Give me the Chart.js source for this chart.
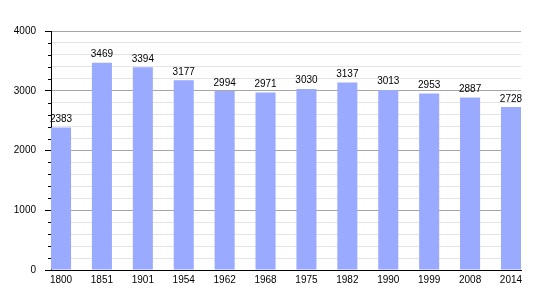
<!DOCTYPE html>
<html>
<head>
<meta charset="utf-8">
<script src="https://cdn.jsdelivr.net/npm/chart.js@4/dist/chart.umd.min.js"></script>
<style>
  body { margin: 0; background: #fff; }
  #wrap { width: 550px; height: 300px; }
</style>
</head>
<body>
<div id="wrap"><canvas id="chart"></canvas></div>
<script>
// --- data ---
const years = ['1800', '1851', '1901', '1954', '1962', '1968', '1975', '1982', '1990', '1999', '2008', '2014'];
const population = [2383, 3469, 3394, 3177, 2994, 2971, 3030, 3137, 3013, 2953, 2887, 2728];
const yMax = 4000;
const majorStep = 1000;
const minorStep = 200;

const FONT = { family: "'Liberation Sans', Arial, sans-serif", size: 10 };
Chart.defaults.color = '#000';

// bar values printed above each bar
const valueLabels = {
    id: 'valueLabels',
    afterDatasetsDraw(chart) {
        const ctx = chart.ctx;
        const meta = chart.getDatasetMeta(0);
        ctx.save();
        ctx.font = `${FONT.size}px ${FONT.family}`;
        ctx.fillStyle = '#000';
        ctx.textAlign = 'center';
        ctx.textBaseline = 'alphabetic';
        meta.data.forEach((bar, i) => {
            ctx.fillText(population[i], bar.x, bar.y - 5.5);
        });
        ctx.restore();
    }
};

// short minor tick marks on the y axis
const minorTicks = {
    id: 'minorTicks',
    afterDraw(chart) {
        const y = chart.scales.y;
        const ctx = chart.ctx;
        ctx.save();
        ctx.strokeStyle = '#000';
        ctx.lineWidth = 1;
        for (let v = minorStep; v < yMax; v += minorStep) {
            if (v % majorStep === 0) continue;
            const py = Math.round(y.getPixelForValue(v)) + 0.5;
            ctx.beginPath();
            ctx.moveTo(y.right - 3, py);
            ctx.lineTo(y.right, py);
            ctx.stroke();
        }
        ctx.restore();
    }
};

new Chart(document.getElementById('chart'), {
    type: 'bar',
    data: {
        datasets: [{
            data: population.map((v, i) => ({ x: i, y: v })),
            backgroundColor: '#99aaff',
            borderWidth: 0,
            barPercentage: 0.49,
            categoryPercentage: 1
        }]
    },
    options: {
        responsive: true,
        maintainAspectRatio: false,
        animation: false,
        layout: { padding: { top: 31, right: 29, left: 0, bottom: 0 } },
        plugins: {
            legend: { display: false },
            tooltip: { enabled: false }
        },
        scales: {
            x: {
                type: 'linear',
                offset: false,
                min: -0.245,
                max: years.length - 1 + 0.245,
                afterBuildTicks: s => { s.ticks = years.map((_, i) => ({ value: i })); },
                afterFit: s => { s.height = 30; },
                grid: { display: false, drawTicks: false, offset: false },
                border: { display: true, color: '#000', width: 1 },
                ticks: {
                    font: FONT,
                    padding: 4,
                    autoSkip: false,
                    maxRotation: 0,
                    callback: v => years[v]
                }
            },
            y: {
                min: 0,
                max: yMax,
                afterFit: s => { s.width = 51; },
                border: { display: true, color: '#000', width: 1 },
                grid: {
                    color: c => (c.tick.value % majorStep === 0 ? '#a6a6a6' : '#e4e4e4'),
                    tickColor: c => (c.tick.value % majorStep === 0 ? '#000' : 'transparent'),
                    tickLength: 6
                },
                ticks: {
                    font: FONT,
                    padding: 9,
                    stepSize: minorStep,
                    autoSkip: false,
                    callback: v => (v % majorStep === 0 ? v : '')
                }
            }
        }
    },
    plugins: [valueLabels, minorTicks]
});
</script>
</body>
</html>
